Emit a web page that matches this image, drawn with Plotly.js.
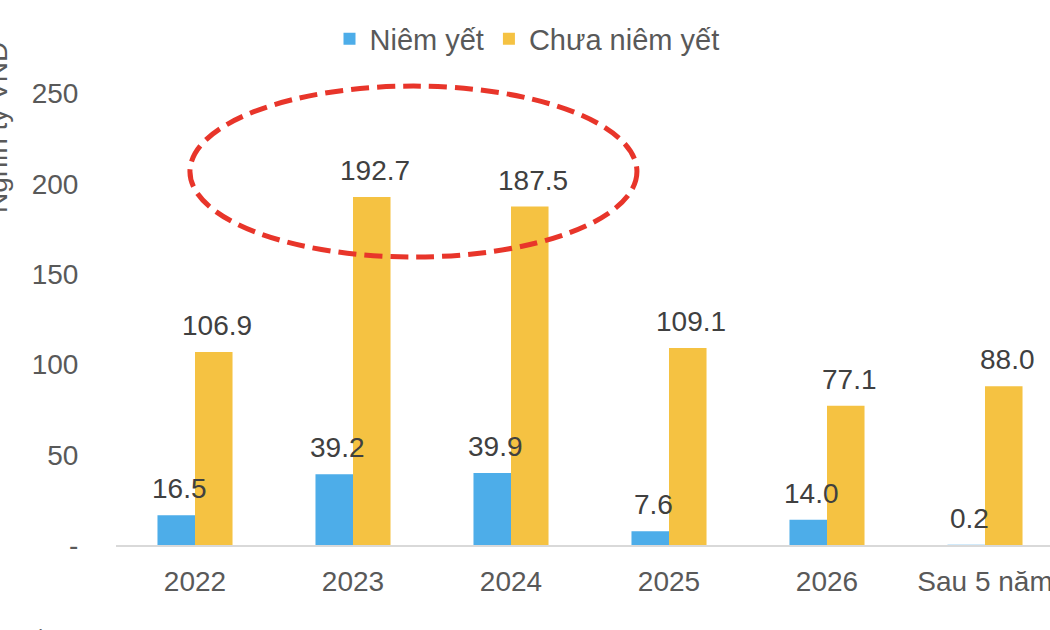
<!DOCTYPE html>
<html>
<head>
<meta charset="utf-8">
<script src="https://cdn.plot.ly/plotly-3.0.1.min.js"></script>
<style>
html,body{margin:0;padding:0;overflow:hidden;background:#fff;}
#chart{width:1080px;height:630px;}
</style>
</head>
<body>
<div id="chart"></div>
<script>
// Data
var categories = ['2022', '2023', '2024', '2025', '2026', 'Sau 5 năm'];
var niemYet = [16.5, 39.2, 39.9, 7.6, 14.0, 0.2];
var chuaNiemYet = [106.9, 192.7, 187.5, 109.1, 77.1, 88.0];
var seriesNames = ['Niêm yết', 'Chưa niêm yết'];
var yTickVals = [0, 50, 100, 150, 200, 250];
var yTickText = ['-', '50', '100', '150', '200', '250'];
var yTitle = 'Nghìn tỷ VND';
var sourceText = 'Nguồn: Fiin';

var FONT = 'Liberation Sans, Arial, sans-serif';
var BLUE = '#4DADE9';
var YELLOW = '#F5C242';

// layout geometry
var W = 1080, H = 630, ML = 116, MR = 16, MT = 72, MB = 85;
var PW = W - ML - MR, PH = H - MT - MB;
function px2paperX(px){ return (px - ML) / PW; }
function px2paperY(py){ return (H - MB - py) / PH; }

var traces = [
  {type:'bar', name: seriesNames[0], x: categories, y: niemYet,
   marker:{color: BLUE}, hoverinfo:'skip'},
  {type:'bar', name: seriesNames[1], x: categories, y: chuaNiemYet,
   marker:{color: YELLOW}, hoverinfo:'skip'}
];

var annotations = [];
function addLabels(vals, shift){
  for (var i = 0; i < categories.length; i++){
    annotations.push({
      x: i, y: vals[i], xref:'x', yref:'y',
      text: vals[i].toFixed(1), showarrow:false,
      xanchor:'center', yanchor:'bottom', xshift: shift, yshift: 9,
      font:{family: FONT, size: 28, color:'#404040'}
    });
  }
}
addLabels(niemYet, -16);
addLabels(chuaNiemYet, 22);

annotations.push({
  text: yTitle, textangle: -90, showarrow:false,
  xref:'paper', yref:'paper', x: px2paperX(-3), y: px2paperY(128),
  xanchor:'center', yanchor:'middle',
  font:{family: FONT, size: 28, color:'#595959'}
});
annotations.push({
  text: sourceText, showarrow:false,
  xref:'paper', yref:'paper', x: px2paperX(0), y: px2paperY(625),
  xanchor:'left', yanchor:'top',
  font:{family: FONT, size: 20, color:'#595959'}
});

var layout = {
  width: W, height: H,
  margin:{l: ML, r: MR, t: MT, b: MB, pad: 0},
  paper_bgcolor:'#fff', plot_bgcolor:'#fff',
  barmode:'group', bargap: 0.525, bargroupgap: 0,
  font:{family: FONT, size: 28, color:'#595959'},
  showlegend: true,
  legend:{orientation:'h', x: px2paperX(527), xanchor:'center',
          y: px2paperY(39), yanchor:'middle',
          font:{family: FONT, size: 29, color:'#595959'},
          itemclick:false, bgcolor:'rgba(0,0,0,0)'},
  xaxis:{type:'category', range:[-0.5, 5.5], showgrid:false, zeroline:false,
         showline:true, linecolor:'#D9D9D9', linewidth:2,
         ticks:'outside', ticklen:10, tickcolor:'rgba(0,0,0,0)',
         tickfont:{family: FONT, size: 28, color:'#595959'}, fixedrange:true},
  yaxis:{range:[0, 262], showgrid:false, zeroline:false, showline:false,
         tickmode:'array', tickvals: yTickVals, ticktext: yTickText,
         ticks:'outside', ticklen:31, tickcolor:'rgba(0,0,0,0)',
         tickfont:{family: FONT, size: 28, color:'#595959'}, fixedrange:true},
  shapes:[{
    type:'circle', xref:'x', yref:'y', x0:-0.032, x1:2.797, y0:159.5, y1:254.2,
    line:{color:'#E8352A', width:5, dash:'18px,8px'}, layer:'above'
  }],
  annotations: annotations
};

Plotly.newPlot('chart', traces, layout, {displayModeBar:false, staticPlot:true});
</script>
</body>
</html>
